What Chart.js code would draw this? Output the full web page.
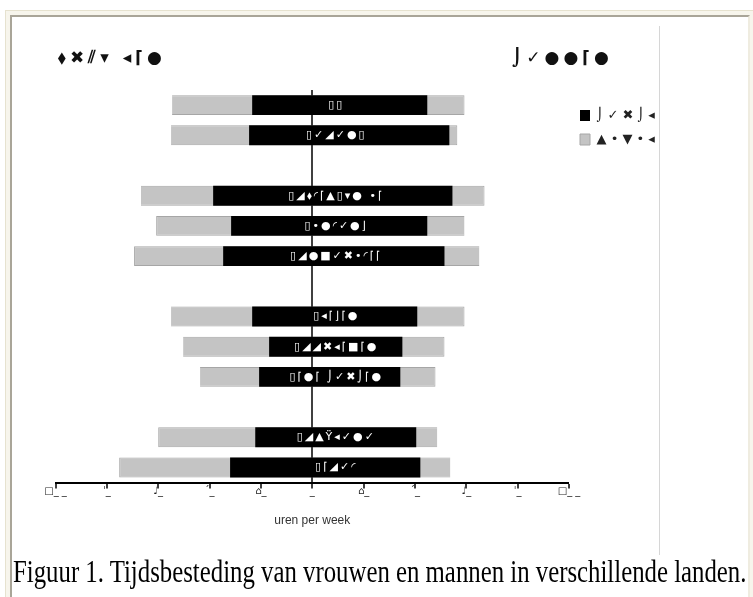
<!DOCTYPE html>
<html><head><meta charset="utf-8">
<script src="https://cdn.jsdelivr.net/npm/chart.js@4"></script>
<style>
html,body{margin:0;padding:0;background:#fff;width:753px;height:597px;overflow:hidden;}
#outer{position:absolute;left:5px;top:10px;width:748px;height:600px;background:#f7f5ec;border-left:1px solid #e6e2cf;border-top:1px solid #e6e2cf;}
#inner{position:absolute;left:10px;top:15px;width:736px;height:600px;background:#fff;border-left:2px solid #a9a598;border-top:2px solid #a9a598;border-right:2px solid #efece0;}
#wrap{position:absolute;left:12px;top:16px;width:647px;height:539px;}
#vline{position:absolute;left:659px;top:26px;width:1px;height:529px;background:#d6d6d6;}
#caption{position:absolute;left:13px;top:563px;height:24px;font-family:'Liberation Serif','Times New Roman',serif;font-size:24.8px;line-height:24px;white-space:nowrap;color:#000;transform:scaleY(1.3);transform-origin:0 100%;}
</style>
</head><body>
<div id="outer"></div>
<div id="inner"></div>
<div id="wrap"><canvas id="c" width="647" height="539"></canvas></div>
<div id="vline"></div>
<div id="caption">Figuur 1. Tijdsbesteding van vrouwen en mannen in verschillende landen.</div>
<script>
// categories (garbled symbol-font country names as shown in the picture), '' = gap row
const categories = ['▯▯', '▯✓◢✓●▯', '', '▯◢⬧◜⌈▲▯▾● •⌈', '▯•●◜✓●⌋', '▯◢●■✓✖•◜⌈⌈', '', '▯◂⌈⌋⌈●', '▯◢◢✖◂⌈■⌈●', '▯⌈●⌈ ⌡✓✖⌡⌈●', '', '▯◢▲Ÿ◂✓●✓', '▯⌈◢✓◜'];
// hours per week
const womenPaid  = [23.4, 24.6, null, 38.6, 31.6, 34.7, null, 23.4, 16.8, 20.7, null, 22.2, 32.0];
const womenTotal = [54.6, 55.0, null, 66.7, 60.8, 69.4, null, 55.0, 50.3, 43.7, null, 60.0, 75.2];
const menPaid    = [44.8, 53.4, null, 54.6, 44.8, 51.5, null, 40.9, 35.1, 34.3, null, 40.5, 42.1];
const menTotal   = [59.3, 56.5, null, 67.1, 59.3, 65.1, null, 59.3, 51.5, 48.0, null, 48.7, 53.8];
const seriesLabels = ['⌡ ✓ ✖ ⌡ ◂ ⌈ ⌈', '▲ • ▼ • ◂ ⌈ ⌈'];
const tickLabels = ['□_ _', 'ˈ_', '♩_', 'ˊ_', '⌂_', '_', '⌂_', 'ˊ_', '♩_', 'ˈ_', '□_ _'];
const leftHeader = '⬧✖⫽▾ ◂⌈●';
const rightHeader = '⌡✓●●⌈●';
const axisTitle = 'uren per week';

const toRange = (w, m) => categories.map((c, i) => w[i] == null ? null : [-w[i], m[i]]);

const labelPlugin = {
  id: 'labels',
  afterDatasetsDraw(chart) {
    const ctx = chart.ctx, xs = chart.scales.x, ys = chart.scales.y;
    const x0 = xs.getPixelForValue(0);
    ctx.save();
    ctx.fillStyle = '#fff';
    ctx.font = '11px "DejaVu Sans"';
    ctx.textAlign = 'center';
    ctx.textBaseline = 'middle';
    try { ctx.letterSpacing = '2px'; } catch (e) {}
    categories.forEach((t, i) => {
      if (!t) return;
      ctx.fillText(t, x0 + 24, ys.getPixelForValue(i));
    });
    ctx.restore();
    ctx.save();
    ctx.fillStyle = '#111';
    ctx.font = 'bold 17px "DejaVu Sans"';
    ctx.textAlign = 'left';
    ctx.textBaseline = 'middle';
    try { ctx.letterSpacing = '4px'; } catch (e) {}
    ctx.fillText(leftHeader, 46, 43);
    ctx.fillText(rightHeader, 500, 43);
    ctx.restore();
  }
};

new Chart(document.getElementById('c'), {
  type: 'bar',
  data: {
    labels: categories,
    datasets: [
      { label: seriesLabels[0], data: toRange(womenPaid, menPaid), backgroundColor: '#000', borderColor: '#000', borderWidth: 0, grouped: false, barPercentage: 0.66, categoryPercentage: 1 },
      { label: seriesLabels[1], data: toRange(womenTotal, menTotal), backgroundColor: '#c4c4c4', borderColor: '#a6a6a6', borderWidth: 1, grouped: false, barPercentage: 0.66, categoryPercentage: 1 }
    ]
  },
  options: {
    responsive: false,
    animation: false,
    indexAxis: 'y',
    layout: { padding: { left: 43.5, top: 74, right: 0, bottom: 27 } },
    scales: {
      x: {
        min: -100, max: 100,
        ticks: { stepSize: 20, padding: -3, color: '#222', font: { size: 10, family: 'DejaVu Sans' }, align: 'center', maxRotation: 0, autoSkip: false,
          callback: (v, i) => tickLabels[i] },
        grid: { color: c => (c.tick && c.tick.value === 0) ? '#404040' : 'rgba(0,0,0,0)', lineWidth: c => (c.tick && c.tick.value === 0) ? 2 : 0, tickColor: '#000', tickLength: 6, tickWidth: 1.5 },
        border: { color: '#000', width: 2 },
        title: { display: true, text: axisTitle, color: '#333', font: { size: 12, family: 'Liberation Sans' }, padding: { top: 19, bottom: 0 } }
      },
      y: { display: false, offset: true }
    },
    plugins: {
      legend: {
        position: 'right', align: 'start', maxWidth: 90,
        title: { display: true, text: ' ', font: { size: 5 }, padding: { top: 1, bottom: 1 } },
        labels: { boxWidth: 10, boxHeight: 11, padding: 11, color: '#222', font: { size: 13, family: 'DejaVu Sans' } }
      },
      tooltip: { enabled: false }
    }
  },
  plugins: [labelPlugin]
});
</script>
</body></html>
